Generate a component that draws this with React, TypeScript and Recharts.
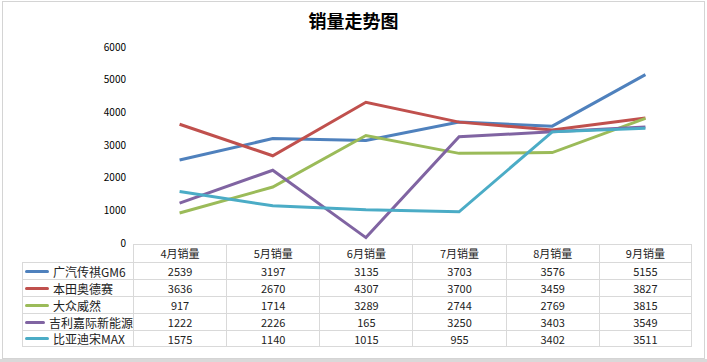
import { LineChart, Line, XAxis, YAxis } from 'recharts';

const months = ['4月销量', '5月销量', '6月销量', '7月销量', '8月销量', '9月销量'];
const seriesNames = ['广汽传祺GM6', '本田奥德赛', '大众威然', '吉利嘉际新能源', '比亚迪宋MAX'];
const gm6 = [2539, 3197, 3135, 3703, 3576, 5155];
const odyssey = [3636, 2670, 4307, 3700, 3459, 3827];
const viloran = [917, 1714, 3289, 2744, 2769, 3815];
const jiaji = [1222, 2226, 165, 3250, 3403, 3549];
const songMax = [1575, 1140, 1015, 955, 3402, 3511];
const yTicks = [0, 1000, 2000, 3000, 4000, 5000, 6000];

const COLORS = ['#4F81BD', '#C0504D', '#9BBB59', '#8064A2', '#4BACC6'];
const allValues = [gm6, odyssey, viloran, jiaji, songMax];

const data = months.map((m, i) => {
  const row: Record<string, string | number> = { month: m };
  seriesNames.forEach((name, k) => {
    row[name] = allValues[k][i];
  });
  return row;
});

const FONT = '"Noto Sans CJK SC", "Noto Sans", sans-serif';
const PLOT_LEFT = 133;
const PLOT_RIGHT = 692;
const COL_W = (PLOT_RIGHT - PLOT_LEFT) / months.length;
const BORDER = '1px solid #d9d9d9';

function DataTable() {
  return (
    <div style={{ position: 'absolute', left: 22, top: 244, fontFamily: FONT, fontSize: 11, color: '#222' }}>
      <div style={{ display: 'flex', height: 18 }}>
        <div style={{ width: PLOT_LEFT - 22 }} />
        {months.map((m, i) => (
          <div
            key={m}
            style={{
              width: COL_W,
              boxSizing: 'border-box',
              borderTop: BORDER,
              borderLeft: BORDER,
              borderRight: i === months.length - 1 ? BORDER : 'none',
              textAlign: 'center',
              lineHeight: '17px',
            }}
          >
            {m}
          </div>
        ))}
      </div>
      {seriesNames.map((name, k) => (
        <div key={name} style={{ display: 'flex', height: 17 }}>
          <div
            style={{
              width: PLOT_LEFT - 22,
              boxSizing: 'border-box',
              borderTop: BORDER,
              borderLeft: BORDER,
              borderBottom: k === seriesNames.length - 1 ? BORDER : 'none',
              display: 'flex',
              alignItems: 'center',
              paddingLeft: 2,
              whiteSpace: 'nowrap',
              fontSize: 12,
            }}
          >
            <span style={{ display: 'inline-block', width: 24, height: 3, borderRadius: 2, background: COLORS[k], marginRight: 4 }} />
            {name}
          </div>
          {allValues[k].map((v, i) => (
            <div
              key={i}
              style={{
                width: COL_W,
                boxSizing: 'border-box',
                borderTop: BORDER,
                borderLeft: BORDER,
                borderRight: i === months.length - 1 ? BORDER : 'none',
                borderBottom: k === seriesNames.length - 1 ? BORDER : 'none',
                textAlign: 'center',
                lineHeight: '16px',
              }}
            >
              {v}
            </div>
          ))}
        </div>
      ))}
    </div>
  );
}

export default function App() {
  return (
    <div style={{ position: 'fixed', left: 0, top: 0, width: 707, height: 362, background: '#ffffff', overflow: 'hidden' }}>
      <div style={{ position: 'absolute', left: 2, top: 1, width: 701, height: 356, border: '1px solid #d4d4d4', background: '#fff' }} />
      <div style={{ position: 'absolute', left: 0, top: 359, width: 707, height: 3, background: '#d9d9d9' }} />
      <div
        style={{
          position: 'absolute',
          left: 0,
          top: 7,
          width: 707,
          textAlign: 'center',
          fontFamily: FONT,
          fontWeight: 'bold',
          fontSize: 18,
          color: '#000',
        }}
      >
        销量走势图
      </div>
      <div style={{ position: 'absolute', left: 0, top: 0 }}>
        <LineChart
          width={707}
          height={362}
          data={data}
          margin={{ top: 47, right: 707 - PLOT_RIGHT, bottom: 362 - 243, left: 0 }}
        >
          <XAxis dataKey="month" hide padding={{ left: COL_W / 2, right: COL_W / 2 }} />
          <YAxis
            width={PLOT_LEFT}
            domain={[0, 6000]}
            ticks={yTicks}
            axisLine={false}
            tickLine={false}
            tickSize={0}
            tickMargin={7}
            tick={{ fontSize: 10, fill: '#000', fontFamily: FONT }}
          />
          {seriesNames.map((name, k) => (
            <Line
              key={name}
              dataKey={name}
              stroke={COLORS[k]}
              strokeWidth={3}
              dot={false}
              isAnimationActive={false}
            />
          ))}
        </LineChart>
      </div>
      <DataTable />
    </div>
  );
}
